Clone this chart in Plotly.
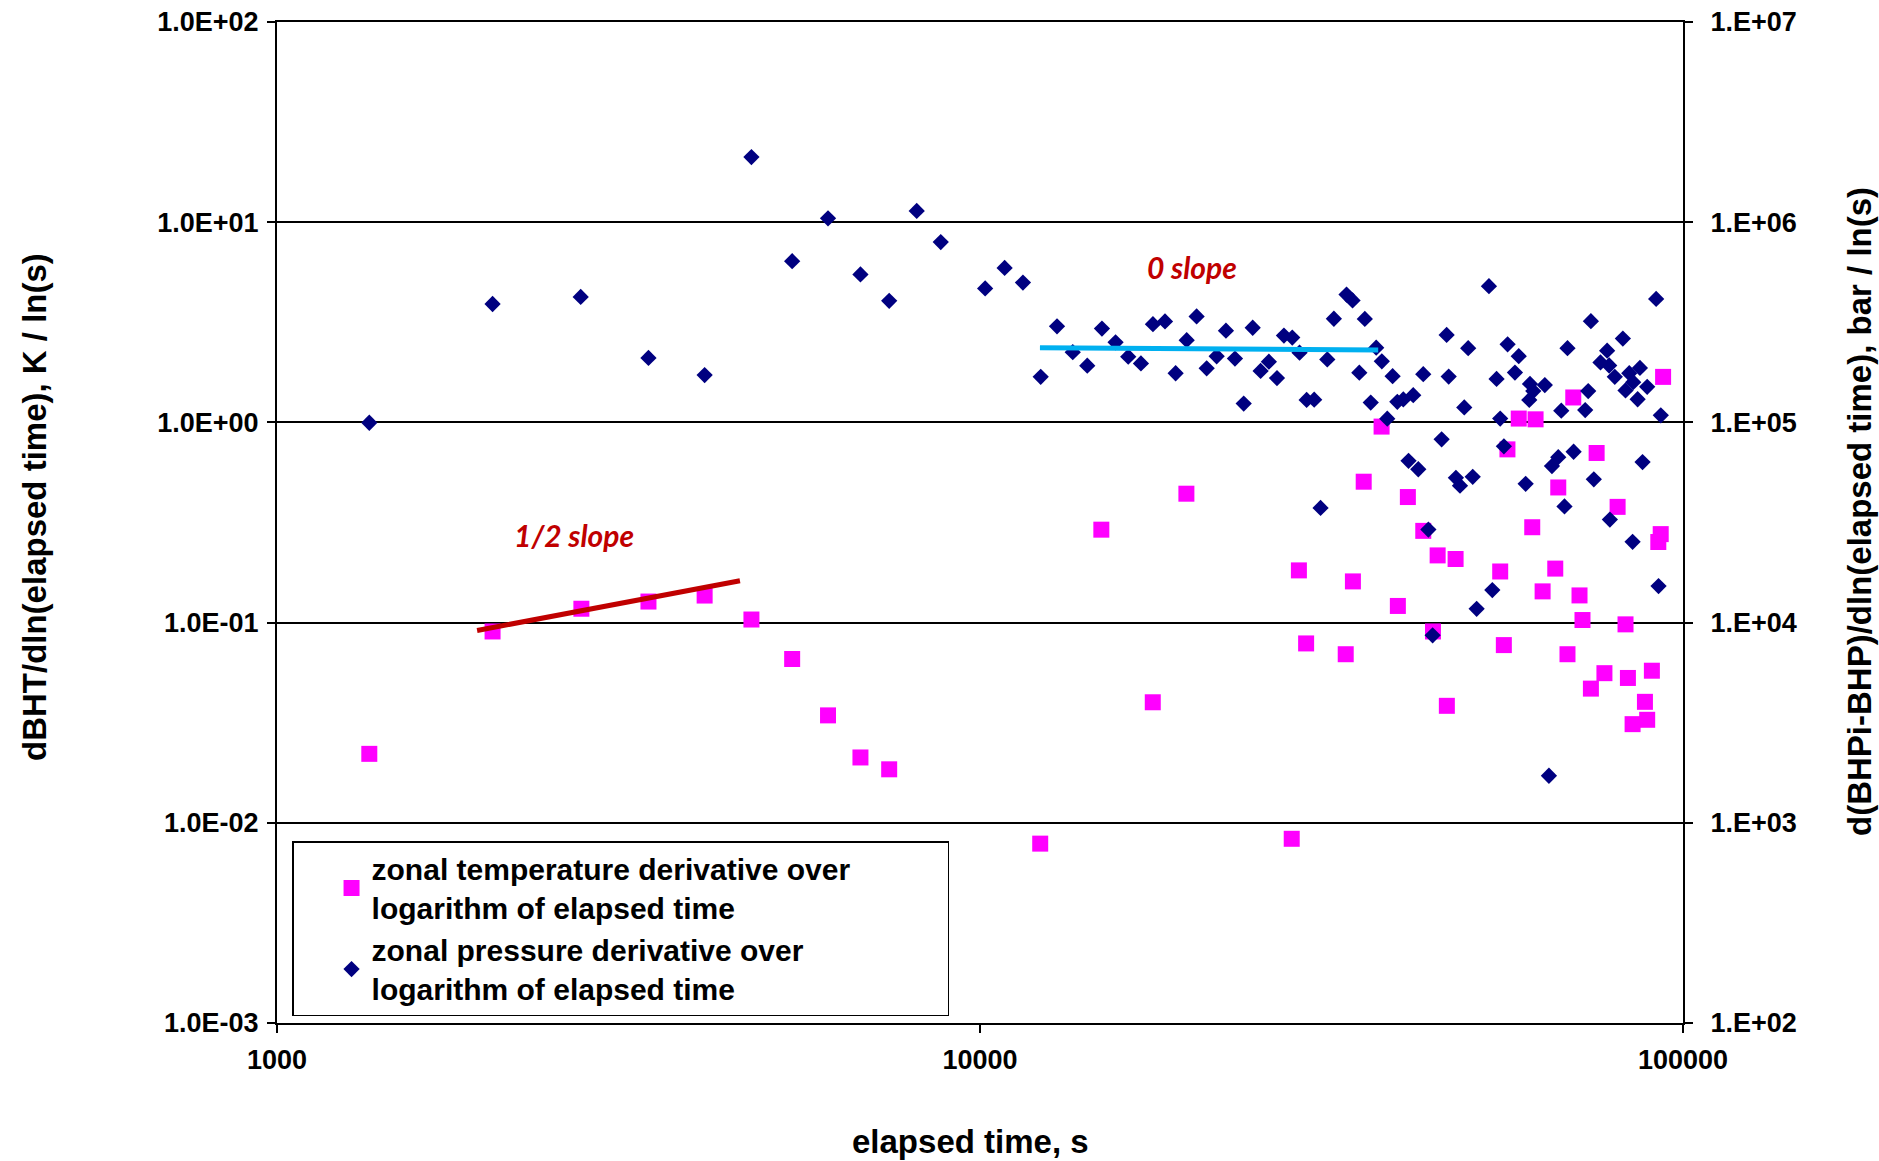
import plotly.graph_objects as go

# ---- data ----
time_T = [1353, 2026, 2710, 3376, 4058, 4730, 5405, 6079, 6760, 7427,
          12180, 14880, 17610, 19660, 27760, 28420, 29100, 33130, 33920, 35140,
          37260, 39300, 40610, 42710, 44090, 44770, 46140, 47480, 55610, 54950,
          56270, 58390, 61030, 61700, 63140, 65810, 66460, 68500, 69810, 71250,
          71950, 73960, 75360, 77310, 80720, 82840, 83490, 84780, 88280, 88930,
          90310, 92230, 92960, 93690]
temp_deriv = [0.0221, 0.0903, 0.1173, 0.1274, 0.1365, 0.1036, 0.0658, 0.0344, 0.0212, 0.0185,
              0.00787, 0.2912, 0.0400, 0.4404, 0.00832, 0.1823, 0.0787, 0.0695, 0.1606, 0.5056,
              0.953, 0.1211, 0.4238, 0.2872, 0.0903, 0.2166, 0.0384, 0.2078, 0.0772, 0.1800,
              0.7333, 1.045, 0.2995, 1.036, 0.1432, 0.1861, 0.4732, 0.0695, 1.332, 0.1367,
              0.1030, 0.0468, 0.7036, 0.0559, 0.3785, 0.0980, 0.0529, 0.0311, 0.0402, 0.0327,
              0.0575, 0.2527, 0.2767, 1.688]

time_P = [1353, 2026, 2704, 3376, 4058, 4730, 5405, 6079, 6760, 7427,
          8128, 8794, 10170, 10840, 11510, 12200, 12870, 13550, 14210, 14910,
          15590, 16250, 16940, 17620, 18330, 18980, 19680, 20330, 21010, 21710,
          22380, 23050, 23720, 24430, 25070, 25760, 26450, 27060, 27810, 28480,
          29150, 29880, 30510, 31190, 31870, 33220, 33880, 34640, 35270, 35960,
          36610, 37290, 37960, 38630, 39230, 40010, 41330, 40700, 42020, 42710,
          43430, 44040, 45360, 46110, 46420, 49480, 48850, 47530, 48170, 50220,
          50870, 53550, 52960, 54300, 54950, 55620, 56300, 57670, 58390, 59730,
          60580, 61240, 63600, 60440, 65100, 66460, 67830, 67120, 68500, 69890,
          72590, 73310, 73960, 74670, 76320, 78000, 78520, 79980, 78700, 82120,
          82840, 83860, 84950, 86840, 88930, 86190, 84780, 87590, 91580, 92990,
          92300, 64460]
press_deriv = [99600, 390300, 423300, 209900, 172400, 2114000, 638600, 1045000, 548600, 405000,
               1139000, 796000, 466900, 590900, 499400, 169000, 302000, 224200, 192100, 294200,
               251100, 212800, 197000, 309600, 319600, 176000, 257400, 338200, 186400, 214000,
               287000, 208400, 124200, 297000, 180700, 201100, 166500, 271300, 265400, 223000,
               129400, 129900, 37380, 206200, 329400, 435100, 406700, 177200, 328500, 125700,
               236000, 202000, 104400, 170200, 126700, 130300, 136700, 64320, 58340, 174000,
               29160, 8638, 82340, 273500, 169500, 234700, 118800, 52840, 48310, 53500,
               11710, 14540, 479200, 164900, 104500, 75910, 245600, 177400, 214300, 49320,
               155600, 143300, 153700, 129400, 60540, 67060, 38050, 114500, 234700, 71350,
               115300, 143300, 320400, 51960, 199200, 228000, 192400, 169000, 32710, 262100,
               144500, 176000, 158900, 187200, 150600, 130500, 25340, 63350, 413500, 108500,
               15220, 1718]

half_slope_t = [1926, 4556]
half_slope_v = [0.0914, 0.1618]
zero_slope_t = [12170, 36850]
zero_slope_v = [235800, 229900]

x_ticks = [1000, 10000, 100000]
x_ticktext = ["1000", "10000", "100000"]
yl_ticks = [1e-3, 1e-2, 1e-1, 1e0, 1e1, 1e2]
yl_ticktext = ["1.0E-03", "1.0E-02", "1.0E-01", "1.0E+00", "1.0E+01", "1.0E+02"]
yr_ticks = [1e2, 1e3, 1e4, 1e5, 1e6, 1e7]
yr_ticktext = ["1.E+02", "1.E+03", "1.E+04", "1.E+05", "1.E+06", "1.E+07"]

FONT = "Liberation Sans, Arial, sans-serif"
tickfont = dict(family=FONT, size=27, color="black", weight="bold")
titlefont = dict(family=FONT, size=33, color="black", weight="bold")
slopefont = dict(family="Lato, Open Sans, sans-serif", size=30, color="#C00000",
                 weight="bold", style="italic")
PAD = "\u00a0" * 11

fig = go.Figure()
fig.add_trace(go.Scatter(
    x=time_T, y=temp_deriv, mode="markers", yaxis="y",
    name="zonal temperature derivative over" + PAD + "<br>logarithm of elapsed time",
    marker=dict(symbol="square", size=16, color="#FF00FF", line=dict(width=0))))
fig.add_trace(go.Scatter(
    x=half_slope_t, y=half_slope_v, mode="lines", yaxis="y", showlegend=False,
    line=dict(color="#C00000", width=5)))
fig.add_trace(go.Scatter(
    x=time_P, y=press_deriv, mode="markers", yaxis="y2",
    name="zonal pressure derivative over<br>logarithm of elapsed time",
    marker=dict(symbol="diamond", size=12.5, color="#000080", line=dict(width=0))))
fig.add_trace(go.Scatter(
    x=zero_slope_t, y=zero_slope_v, mode="lines", yaxis="y2", showlegend=False,
    line=dict(color="#00B0F0", width=5)))

fig.update_layout(
    width=1879, height=1161,
    margin=dict(l=277, r=196, t=22, b=138),
    paper_bgcolor="white", plot_bgcolor="white",
    font=dict(family=FONT, color="black"),
    xaxis=dict(type="log", range=[3, 5], tickvals=x_ticks, ticktext=x_ticktext,
               showgrid=False, zeroline=False, showline=True, linecolor="black",
               linewidth=2, mirror=True, ticks="outside", ticklen=8, tickwidth=1.5,
               tickcolor="black", tickfont=tickfont, automargin=False,
               ticklabelstandoff=4),
    yaxis=dict(type="log", range=[-3, 2], tickvals=yl_ticks, ticktext=yl_ticktext,
               showgrid=True, gridcolor="black", gridwidth=1.5, zeroline=False,
               showline=True, linecolor="black", linewidth=2, ticks="outside",
               ticklen=8, tickwidth=1.5, tickcolor="black", tickfont=tickfont,
               automargin=False, ticklabelstandoff=3),
    yaxis2=dict(type="log", range=[2, 7], tickvals=yr_ticks, ticktext=yr_ticktext,
                overlaying="y", side="right", showgrid=False, zeroline=False,
                showline=True, linecolor="black", linewidth=2, ticks="outside",
                ticklen=8, tickwidth=1.5, tickcolor="black", tickfont=tickfont,
                automargin=False, ticklabelstandoff=12),
    legend=dict(x=0.0107, y=0.1818, xanchor="left", yanchor="top",
                bgcolor="white", bordercolor="black", borderwidth=1.5,
                font=dict(family=FONT, size=30, color="black", weight="bold"),
                indentation=38, tracegroupgap=0),
    showlegend=True,
    annotations=[
        dict(text="elapsed time, s", xref="paper", yref="paper", x=0.4933, y=-0.1185,
             showarrow=False, xanchor="center", yanchor="middle", font=titlefont),
        dict(text="dBHT/dln(elapsed time), K / ln(s)", xref="paper", yref="paper",
             x=-0.1721, y=0.5155, textangle=-90,
             showarrow=False, xanchor="center", yanchor="middle", font=titlefont),
        dict(text="d(BHPi-BHP)/dln(elapsed time), bar / ln(s)", xref="paper", yref="paper",
             x=1.1259, y=0.5105, textangle=-90,
             showarrow=False, xanchor="center", yanchor="middle", font=titlefont),
        dict(text="1/2 slope", xref="paper", yref="paper", x=0.2112, y=0.4878,
             showarrow=False, xanchor="center", yanchor="middle", font=slopefont),
        dict(text="0 slope", xref="paper", yref="paper", x=0.6511, y=0.7557,
             showarrow=False, xanchor="center", yanchor="middle", font=slopefont),
    ],
)

fig.write_html("out.html")
